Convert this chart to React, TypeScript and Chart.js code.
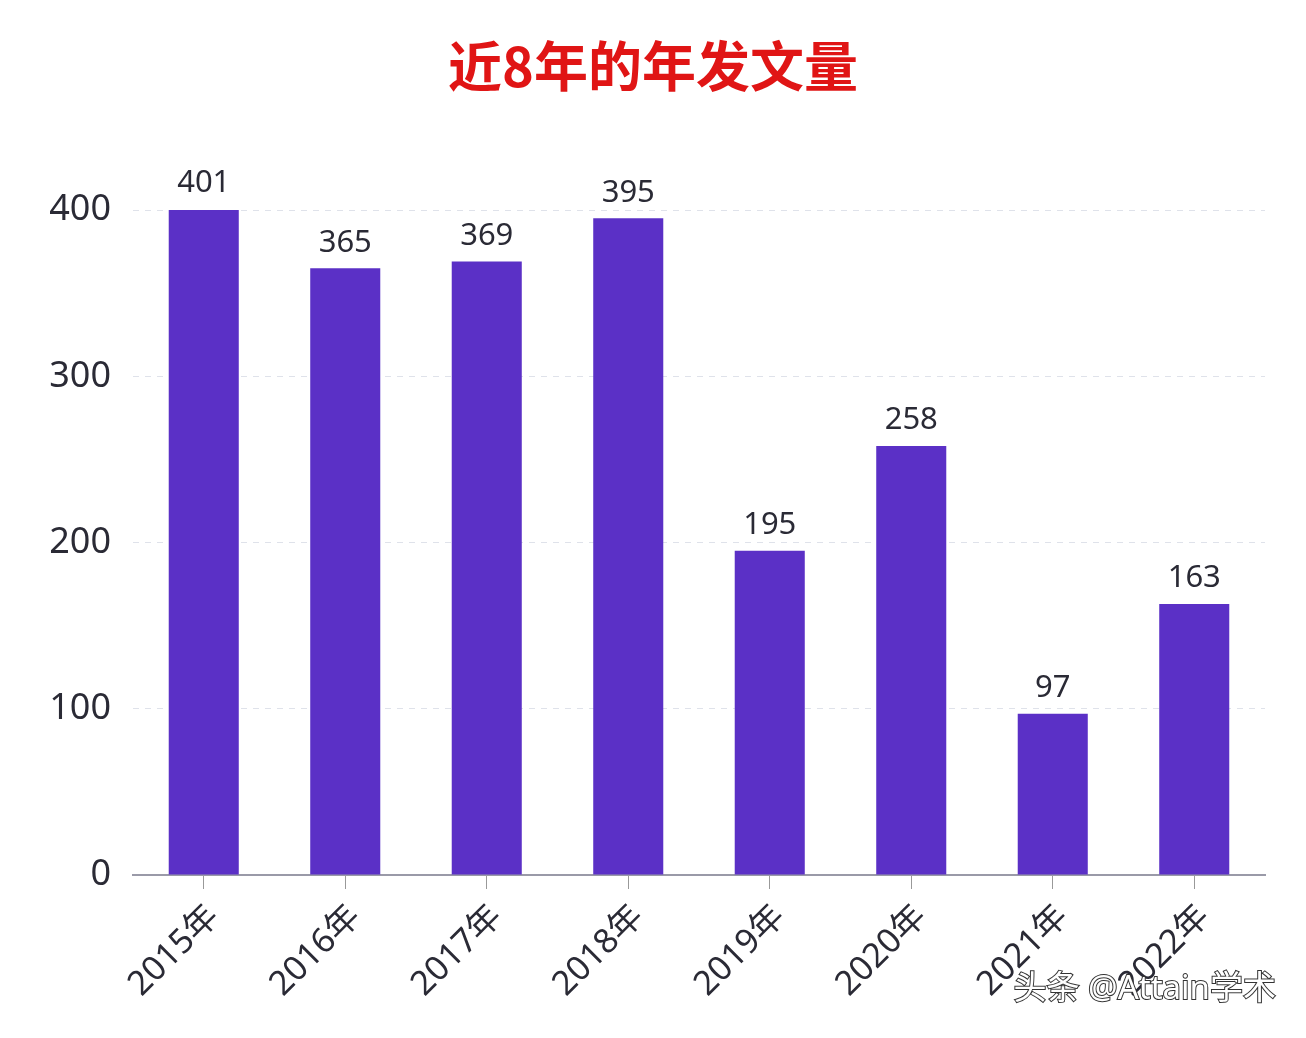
import React, { useEffect, useRef } from "react";
import { Chart, registerables } from "chart.js";

Chart.register(...registerables);

const title = "近8年的年发文量";
const categories = ["2015年", "2016年", "2017年", "2018年", "2019年", "2020年", "2021年", "2022年"];
const values = [401, 365, 369, 395, 195, 258, 97, 163];
const yTicks = [0, 100, 200, 300, 400];
const watermark = "头条 @Attain学术";

const FONT = "'Noto Sans', 'Noto Sans CJK SC', sans-serif";
const CJK = "'Noto Sans CJK SC', sans-serif";

const labelPlugin = {
  id: "valueLabels",
  afterDatasetsDraw(chart: any) {
    const { ctx } = chart;
    const meta = chart.getDatasetMeta(0);
    ctx.save();
    ctx.font = `31px ${FONT}`;
    ctx.fillStyle = "#2a2a35";
    ctx.textAlign = "center";
    ctx.textBaseline = "bottom";
    meta.data.forEach((bar: any, i: number) => {
      ctx.fillText(String(values[i]), bar.x, bar.y - 10);
    });
    ctx.restore();
  },
  afterDraw(chart: any) {
    const { ctx, width, height } = chart;
    ctx.save();
    ctx.font = `bold 54px ${CJK}`;
    ctx.textAlign = "center";
    ctx.textBaseline = "middle";
    ctx.fillStyle = "#E01515";
    ctx.fillText(title, width / 2, 66);

    ctx.font = `33px ${FONT}`;
    ctx.textAlign = "right";
    ctx.textBaseline = "middle";
    ctx.lineWidth = 2;
    ctx.strokeStyle = "#333";
    ctx.strokeText(watermark, width - 30, height - 48);
    ctx.fillStyle = "#ffffff";
    ctx.fillText(watermark, width - 30, height - 48);
    ctx.restore();
  },
};

export default function App() {
  const ref = useRef<HTMLCanvasElement>(null);
  useEffect(() => {
    document.body.style.margin = "0";
    const chart = new Chart(ref.current!, {
      type: "bar",
      data: {
        labels: categories,
        datasets: [
          {
            data: values,
            backgroundColor: "#5B30C6",
            categoryPercentage: 1,
            barPercentage: 0.495,
          },
        ],
      },
      plugins: [labelPlugin],
      options: {
        responsive: false,
        animation: false,
        layout: { padding: { top: 210, right: 41, left: 0, bottom: 0 } },
        plugins: {
          legend: { display: false },
          tooltip: { enabled: false },
          title: { display: false },
        },
        scales: {
          x: {
            grid: { display: true, drawOnChartArea: false, drawTicks: true, tickLength: 14, color: "#999", offset: false },
            border: { display: true, color: "#9a9aa8", width: 2 },
            ticks: {
              color: "#2a2a35",
              font: { size: 34, family: FONT },
              minRotation: 45,
              maxRotation: 45,
              padding: 8,
              labelOffset: 10,
            },
            afterFit(scale: any) {
              scale.height = 163;
            },
          },
          y: {
            min: 0,
            max: 400,
            afterBuildTicks(scale: any) {
              scale.ticks = yTicks.map((v) => ({ value: v }));
            },
            grid: { color: "#dfe2ea", drawTicks: false },
            border: { display: false, dash: [6, 6] },
            ticks: {
              color: "#2a2a35",
              font: { size: 36, family: FONT },
              padding: 22,
            },
            afterFit(scale: any) {
              scale.width = 133;
            },
          },
        },
      } as any,
    });
    return () => chart.destroy();
  }, []);
  return <canvas ref={ref} width={1306} height={1038} style={{ display: "block" }} />;
}
